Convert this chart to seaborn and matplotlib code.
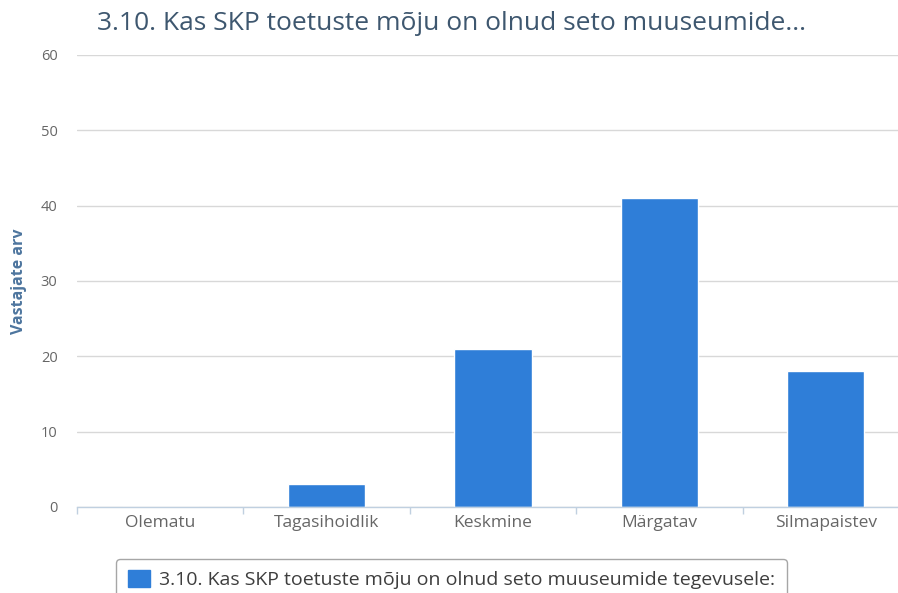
import matplotlib
matplotlib.use("Agg")
import matplotlib.pyplot as plt
import pandas as pd
import seaborn as sns

categories = ["Olematu", "Tagasihoidlik", "Keskmine", "Märgatav", "Silmapaistev"]
values = [0, 3, 21, 41, 18]
y_ticks = [0, 10, 20, 30, 40, 50, 60]
title = "3.10. Kas SKP toetuste mõju on olnud seto muuseumide..."
series_name = "3.10. Kas SKP toetuste mõju on olnud seto muuseumide tegevusele:"
y_label = "Vastajate arv"

bar_color = "#2f7ed8"

sns.set_theme(style="white")
plt.rcParams['font.family'] = ['Open Sans', 'DejaVu Sans']

df = pd.DataFrame({"kategooria": categories, "arv": values, "seeria": series_name})

fig = plt.figure(figsize=(8.98, 5.93), dpi=100)
ax = fig.add_axes([77 / 898, 1 - 507 / 593, 832 / 898, 452 / 593])

sns.barplot(df, x="kategooria", y="arv", hue="seeria", palette=[bar_color],
            width=0.465, ax=ax, legend=False, saturation=1)

ax.set_ylim(0, 60)
ax.set_xlim(-0.5, len(categories) - 0.5)
ax.set_yticks(y_ticks)
ax.yaxis.grid(True, color="#d8d8d8", linewidth=1)
ax.set_axisbelow(True)
for side in ["top", "right", "left"]:
    ax.spines[side].set_visible(False)
ax.spines["bottom"].set_color("#c0d0e0")
ax.spines["bottom"].set_linewidth(1)

ax.tick_params(axis="y", colors="#666666", labelsize=10.5, length=0, pad=14)
ax.tick_params(axis="x", colors="#666666", labelsize=12.5, length=0, pad=6)
# category boundary ticks
ax.set_xticks([i - 0.5 for i in range(len(categories) + 1)], minor=True)
ax.tick_params(axis="x", which="minor", bottom=True, length=5, color="#c0d0e0", width=1)
ax.set_xlabel("")
ax.set_ylabel(y_label, color="#4d759e", fontsize=11.5, fontweight="bold", labelpad=10)

fig.text(0.503, 1 - 23 / 593, title, ha="center", va="center", fontsize=19, color="#3e576f")

handle = plt.Rectangle((0, 0), 1, 1, color=bar_color)
leg = fig.legend([handle], [series_name], loc="upper center",
                 bbox_to_anchor=(0.503, 1 - 549 / 593), fontsize=14,
                 frameon=True, fancybox=True, handlelength=1.1, handleheight=0.9,
                 borderpad=0.6, handletextpad=0.5)
leg.get_frame().set_edgecolor("#909090")
leg.get_frame().set_linewidth(1)
for t in leg.get_texts():
    t.set_color("#3e3e3e")

fig.savefig("out.png", dpi=100)
